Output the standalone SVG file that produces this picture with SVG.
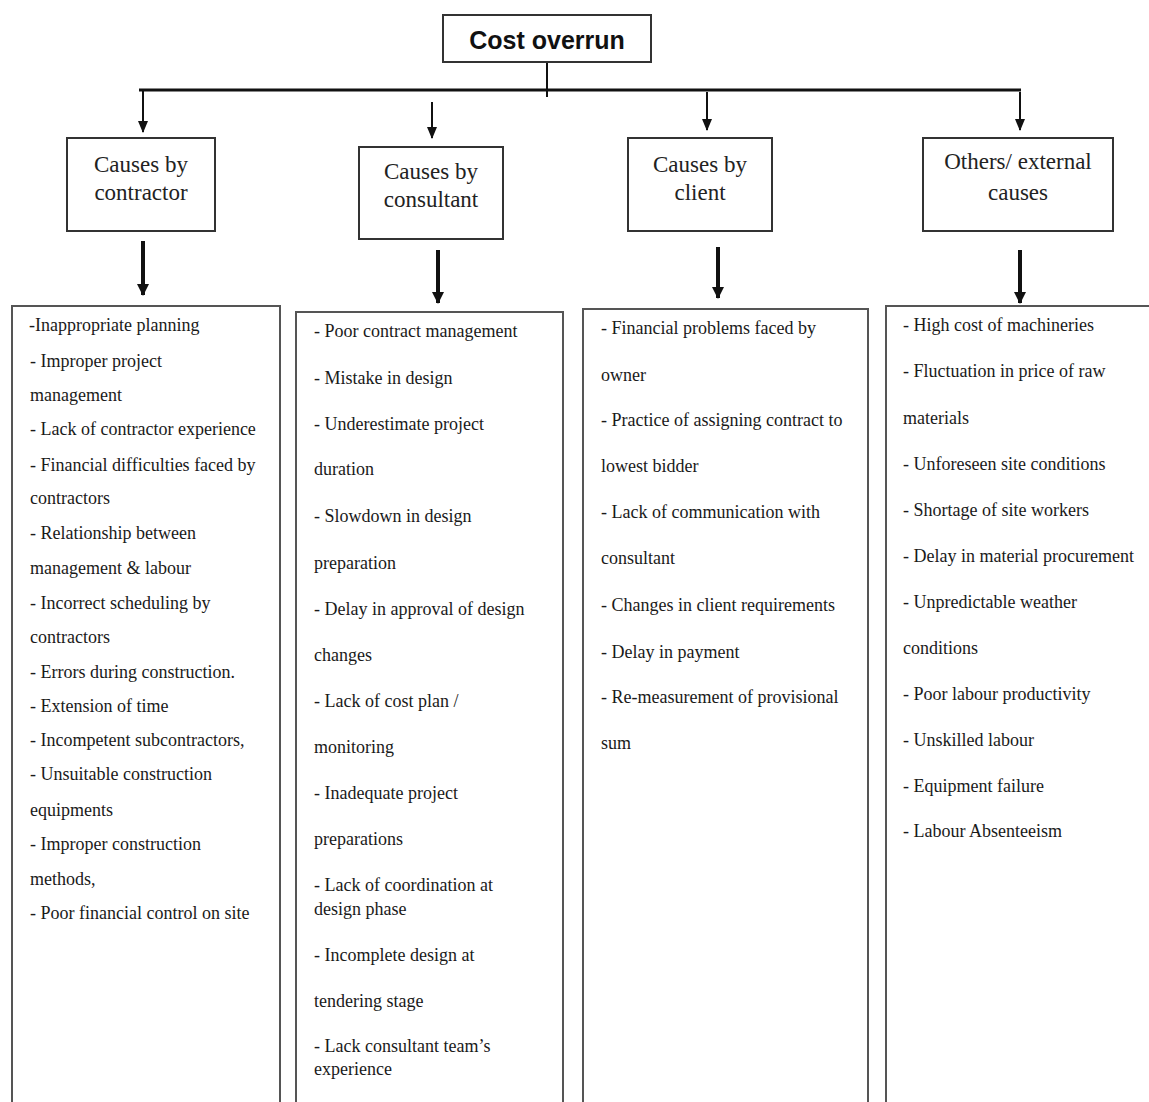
<svg xmlns="http://www.w3.org/2000/svg" width="1149" height="1102" viewBox="0 0 1149 1102">
<defs>
<marker id="ah" markerWidth="12" markerHeight="10" refX="11" refY="5" orient="auto" markerUnits="userSpaceOnUse" viewBox="0 0 12 10">
<path d="M0,0 L12,5 L0,10 Z" fill="#111"/>
</marker>
<marker id="ahb" markerWidth="12" markerHeight="12" refX="11" refY="6" orient="auto" markerUnits="userSpaceOnUse" viewBox="0 0 12 12">
<path d="M0,0 L12,6 L0,12 Z" fill="#111"/>
</marker>
</defs>
<style>
.box{fill:#fff;stroke:#333;stroke-width:2}
.lst{fill:#fff;stroke:#555;stroke-width:2}
.hd{font-family:"Liberation Serif","Times New Roman",serif;font-size:23px;fill:#222;text-anchor:middle}
.tt{font-family:"Liberation Sans",Arial,sans-serif;font-size:25px;font-weight:bold;fill:#111;text-anchor:middle}
.it{font-family:"Liberation Serif","Times New Roman",serif;font-size:18px;fill:#1a1a1a}
.thin{stroke:#111;stroke-width:2;fill:none}
.thick{stroke:#111;stroke-width:4;fill:none}
</style>
<rect width="1149" height="1102" fill="#fff"/>
<g id="connectors">
<line class="thin" x1="547" y1="62" x2="547" y2="97"/>
<line x1="139" y1="90" x2="1021" y2="90" stroke="#111" stroke-width="3"/>
<line class="thin" x1="143" y1="90" x2="143" y2="132" marker-end="url(#ah)"/>
<line class="thin" x1="432" y1="102" x2="432" y2="138" marker-end="url(#ah)"/>
<line class="thin" x1="707" y1="92" x2="707" y2="130" marker-end="url(#ah)"/>
<line class="thin" x1="1020" y1="92" x2="1020" y2="130" marker-end="url(#ah)"/>
<line class="thick" x1="143" y1="241" x2="143" y2="295" marker-end="url(#ahb)"/>
<line class="thick" x1="438" y1="250" x2="438" y2="303" marker-end="url(#ahb)"/>
<line class="thick" x1="718" y1="247" x2="718" y2="298" marker-end="url(#ahb)"/>
<line class="thick" x1="1020" y1="250" x2="1020" y2="303" marker-end="url(#ahb)"/>
</g>
<g id="cost-overrun">
<rect class="box" x="443" y="15" width="208" height="47"/>
<text class="tt" x="547" y="49">Cost overrun</text>
</g>
<g id="causes-contractor">
<rect class="box" x="67" y="138" width="148" height="93"/>
<text class="hd" x="141" y="172">Causes by</text>
<text class="hd" x="141" y="200">contractor</text>
</g>
<g id="causes-consultant">
<rect class="box" x="359" y="147" width="144" height="92"/>
<text class="hd" x="431" y="179">Causes by</text>
<text class="hd" x="431" y="207">consultant</text>
</g>
<g id="causes-client">
<rect class="box" x="628" y="138" width="144" height="93"/>
<text class="hd" x="700" y="172">Causes by</text>
<text class="hd" x="700" y="200">client</text>
</g>
<g id="causes-external">
<rect class="box" x="923" y="138" width="190" height="93"/>
<text class="hd" x="1018" y="169">Others/ external</text>
<text class="hd" x="1018" y="200">causes</text>
</g>
<g id="list-contractor">
<rect class="lst" x="12" y="306" width="268" height="800"/>
<text class="it" x="29" y="331">-Inappropriate planning</text>
<text class="it" x="30" y="367">- Improper project</text>
<text class="it" x="30" y="401">management</text>
<text class="it" x="30" y="435">- Lack of contractor experience</text>
<text class="it" x="30" y="471">- Financial difficulties faced by</text>
<text class="it" x="30" y="504">contractors</text>
<text class="it" x="30" y="539">- Relationship between</text>
<text class="it" x="30" y="574">management &amp; labour</text>
<text class="it" x="30" y="609">- Incorrect scheduling by</text>
<text class="it" x="30" y="643">contractors</text>
<text class="it" x="30" y="678">- Errors during construction.</text>
<text class="it" x="30" y="712">- Extension of time</text>
<text class="it" x="30" y="746">- Incompetent subcontractors,</text>
<text class="it" x="30" y="780">- Unsuitable construction</text>
<text class="it" x="30" y="816">equipments</text>
<text class="it" x="30" y="850">- Improper construction</text>
<text class="it" x="30" y="885">methods,</text>
<text class="it" x="30" y="919">- Poor financial control on site</text>
</g>
<g id="list-consultant">
<rect class="lst" x="296" y="312" width="267" height="794"/>
<text class="it" x="314" y="337">- Poor contract management</text>
<text class="it" x="314" y="384">- Mistake in design</text>
<text class="it" x="314" y="430">- Underestimate project</text>
<text class="it" x="314" y="475">duration</text>
<text class="it" x="314" y="522">- Slowdown in design</text>
<text class="it" x="314" y="569">preparation</text>
<text class="it" x="314" y="615">- Delay in approval of design</text>
<text class="it" x="314" y="661">changes</text>
<text class="it" x="314" y="707">- Lack of cost plan /</text>
<text class="it" x="314" y="753">monitoring</text>
<text class="it" x="314" y="799">- Inadequate project</text>
<text class="it" x="314" y="845">preparations</text>
<text class="it" x="314" y="891">- Lack of coordination at</text>
<text class="it" x="314" y="915">design phase</text>
<text class="it" x="314" y="961">- Incomplete design at</text>
<text class="it" x="314" y="1007">tendering stage</text>
<text class="it" x="314" y="1052">- Lack consultant team’s</text>
<text class="it" x="314" y="1075">experience</text>
</g>
<g id="list-client">
<rect class="lst" x="583" y="309" width="285" height="797"/>
<text class="it" x="601" y="334">- Financial problems faced by</text>
<text class="it" x="601" y="381">owner</text>
<text class="it" x="601" y="426">- Practice of assigning contract to</text>
<text class="it" x="601" y="472">lowest bidder</text>
<text class="it" x="601" y="518">- Lack of communication with</text>
<text class="it" x="601" y="564">consultant</text>
<text class="it" x="601" y="611">- Changes in client requirements</text>
<text class="it" x="601" y="658">- Delay in payment</text>
<text class="it" x="601" y="703">- Re-measurement of provisional</text>
<text class="it" x="601" y="749">sum</text>
</g>
<g id="list-external">
<rect class="lst" x="886" y="306" width="280" height="800"/>
<text class="it" x="903" y="331">- High cost of machineries</text>
<text class="it" x="903" y="377">- Fluctuation in price of raw</text>
<text class="it" x="903" y="424">materials</text>
<text class="it" x="903" y="470">- Unforeseen site conditions</text>
<text class="it" x="903" y="516">- Shortage of site workers</text>
<text class="it" x="903" y="562">- Delay in material procurement</text>
<text class="it" x="903" y="608">- Unpredictable weather</text>
<text class="it" x="903" y="654">conditions</text>
<text class="it" x="903" y="700">- Poor labour productivity</text>
<text class="it" x="903" y="746">- Unskilled labour</text>
<text class="it" x="903" y="792">- Equipment failure</text>
<text class="it" x="903" y="837">- Labour Absenteeism</text>
</g>
</svg>
